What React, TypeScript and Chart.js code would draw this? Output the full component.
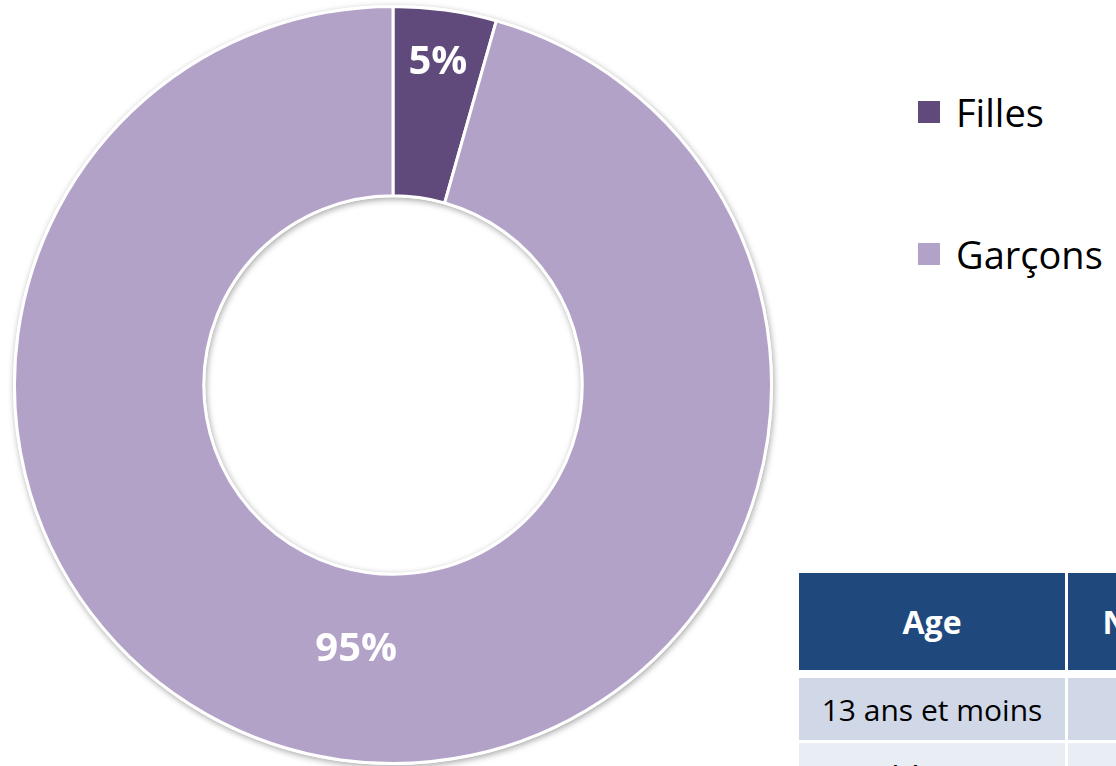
import React, { useEffect, useRef } from "react";
import { Chart, registerables } from "chart.js";

Chart.register(...registerables);

const categories = ["Filles", "Garçons"];
const shares = [4.4, 95.6];
const shareLabels = ["5%", "95%"];
const colors = ["#604A7B", "#B3A2C7"];

const tableHeader = ["Age", "Nombre"];
const tableRows = [
  ["13 ans et moins", ""],
  ["14 ans", ""],
];

const labelRadiusFrac = [0.72, 0.41];

const ringShadow = {
  id: "ringShadow",
  beforeDatasetsDraw(chart: any) {
    const meta = chart.getDatasetMeta(0);
    const a = meta.data[0];
    if (!a) return;
    const { x, y, outerRadius, innerRadius } = a.getProps(["x", "y", "outerRadius", "innerRadius"], true);
    const ctx = chart.ctx;
    ctx.save();
    ctx.beginPath();
    ctx.arc(x, y, outerRadius + 1.5, 0, Math.PI * 2);
    ctx.arc(x, y, Math.max(innerRadius - 1.5, 0), 0, Math.PI * 2, true);
    ctx.closePath();
    ctx.shadowColor = "rgba(0,0,0,0.35)";
    ctx.shadowBlur = 6;
    ctx.shadowOffsetX = 1;
    ctx.shadowOffsetY = 2;
    ctx.fillStyle = "#ffffff";
    ctx.fill("evenodd");
    ctx.restore();
  },
};

const sliceLabels = {
  id: "sliceLabels",
  afterDatasetsDraw(chart: any) {
    const meta = chart.getDatasetMeta(0);
    const ctx = chart.ctx;
    ctx.save();
    ctx.fillStyle = "#ffffff";
    ctx.font = "bold 40px 'Open Sans'";
    ctx.textAlign = "center";
    ctx.textBaseline = "middle";
    meta.data.forEach((arc: any, i: number) => {
      const { x, y, startAngle, endAngle, outerRadius, innerRadius } = arc.getProps(
        ["x", "y", "startAngle", "endAngle", "outerRadius", "innerRadius"],
        true
      );
      const mid = (startAngle + endAngle) / 2;
      const r = innerRadius + labelRadiusFrac[i] * (outerRadius - innerRadius);
      ctx.fillText(shareLabels[i], x + Math.cos(mid) * r, y + Math.sin(mid) * r);
    });
    ctx.restore();
  },
};

export default function App() {
  const ref = useRef<HTMLCanvasElement | null>(null);

  useEffect(() => {
    if (!ref.current) return;
    const chart = new Chart(ref.current, {
      type: "doughnut",
      data: {
        labels: categories,
        datasets: [
          {
            data: shares,
            backgroundColor: colors,
            borderColor: "#ffffff",
            borderWidth: 3,
          },
        ],
      },
      options: {
        responsive: false,
        animation: false,
        cutout: "50%",
        layout: { padding: { left: 13, right: 13, top: 5, bottom: 1 } },
        plugins: {
          legend: { display: false },
          tooltip: { enabled: false },
        },
      },
      plugins: [ringShadow, sliceLabels],
    });
    return () => chart.destroy();
  }, []);

  const font = "'Open Sans', sans-serif";
  const legendTops = [99, 241];
  const rowTops = [678, 743];

  return (
    <div
      style={{
        position: "fixed",
        left: 0,
        top: 0,
        width: 1116,
        height: 766,
        overflow: "hidden",
        background: "#ffffff",
        fontFamily: font,
      }}
    >
      <canvas ref={ref} width={786} height={766} style={{ position: "absolute", left: 0, top: 0 }} />

      {categories.map((c, i) => (
        <div key={c} style={{ position: "absolute", left: 918, top: legendTops[i], display: "flex", alignItems: "center", height: 26 }}>
          <div style={{ width: 22, height: 22, background: colors[i], marginRight: 16 }} />
          <div style={{ fontSize: 38, color: "#000", lineHeight: "26px", whiteSpace: "nowrap" }}>{c}</div>
        </div>
      ))}

      {tableHeader.map((h, j) => (
        <div
          key={h}
          style={{
            position: "absolute",
            left: j === 0 ? 799 : 1068,
            top: 573,
            width: j === 0 ? 266 : 200,
            height: 97,
            background: "#1F497D",
            color: "#fff",
            fontWeight: 700,
            fontSize: 32,
            display: "flex",
            alignItems: "center",
            justifyContent: "center",
          }}
        >
          {h}
        </div>
      ))}

      {tableRows.map((row, i) =>
        row.map((cell, j) => (
          <div
            key={i + "-" + j}
            style={{
              position: "absolute",
              left: j === 0 ? 799 : 1068,
              top: rowTops[i],
              width: j === 0 ? 266 : 200,
              height: 62,
              background: i === 0 ? "#D0D8E8" : "#E9EDF4",
              color: "#000",
              fontSize: 30,
              display: "flex",
              alignItems: "center",
              justifyContent: "center",
              whiteSpace: "nowrap",
            }}
          >
            {cell}
          </div>
        ))
      )}
    </div>
  );
}
